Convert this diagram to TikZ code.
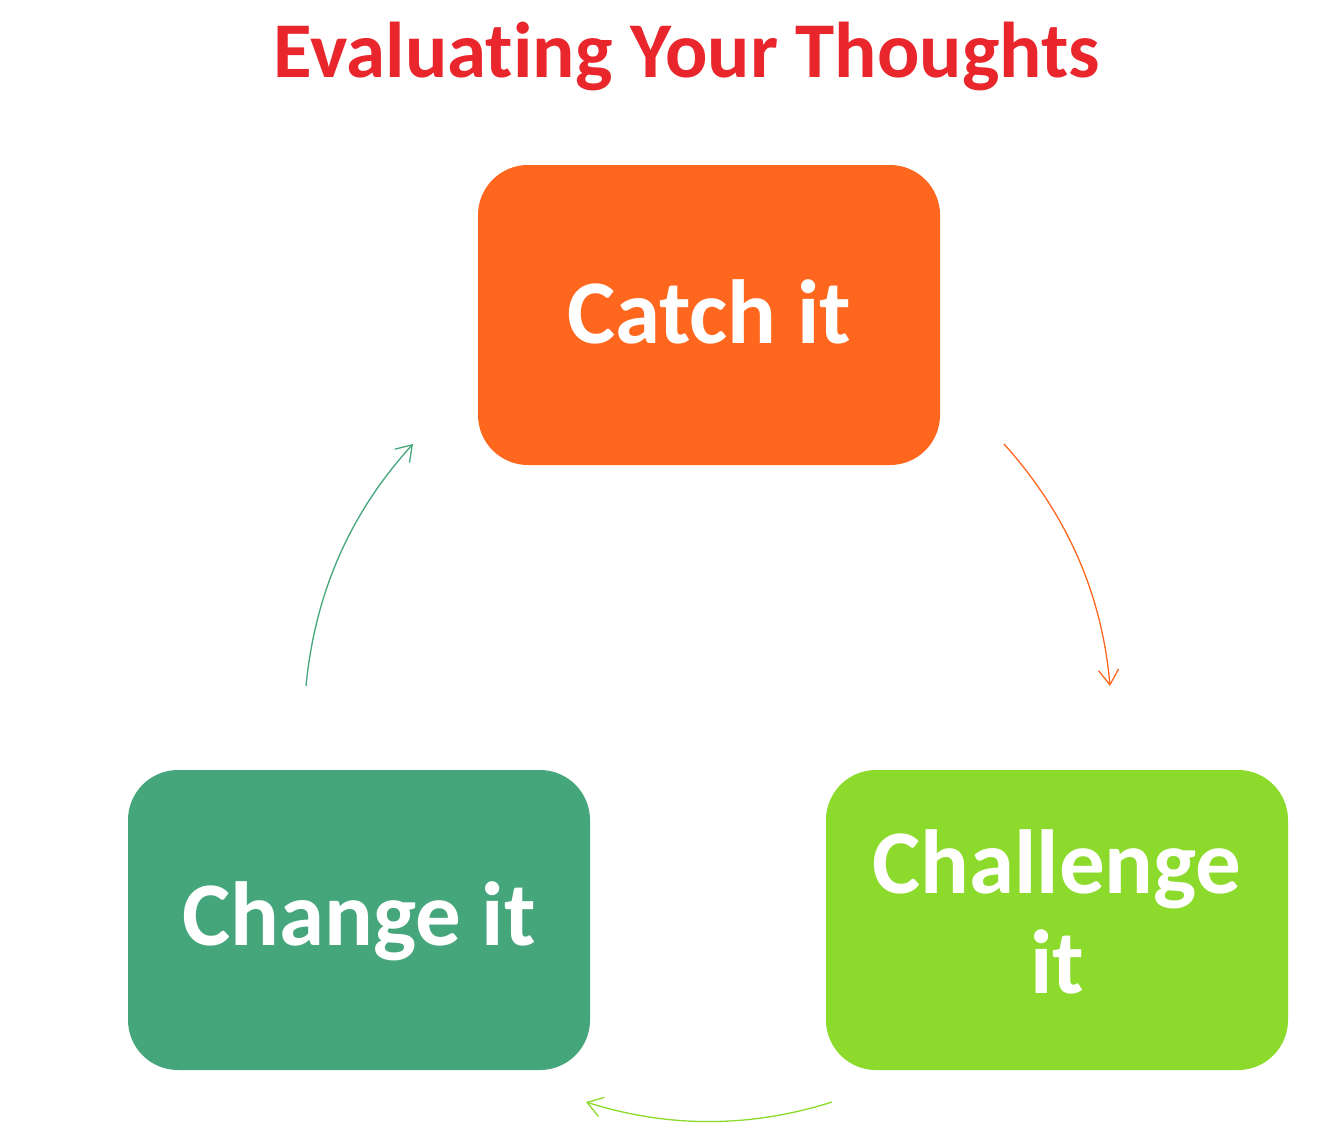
\documentclass[tikz,border=0pt]{standalone}
\usepackage{fontspec}
\setmainfont[Ligatures={NoCommon,NoDiscretionary}]{Carlito}
\usetikzlibrary{arrows.meta}
\definecolor{titlered}{HTML}{E8262C}
\definecolor{catchor}{HTML}{FF671F}
\definecolor{chalgreen}{HTML}{8CDA2B}
\definecolor{changeteal}{HTML}{46A67B}
\tikzset{
  box/.style={rounded corners=50pt, minimum width=462pt, minimum height=300pt, inner sep=0pt, draw=none},
  boxtext/.style={text=white, font=\bfseries\fontsize{91}{100}\selectfont, anchor=base, inner sep=0pt},
  cyclearrow/.style={line width=1.3pt, -{Straight Barb[length=15pt,width=20pt,line width=1.3pt]}}
}
\begin{document}
\begin{tikzpicture}[x=1pt,y=-1pt]
\useasboundingbox (0,0) rectangle (1342,1144);
\fill[white] (0,0) rectangle (1342,1144);
\node[text=titlered, font=\bfseries\fontsize{79}{90}\selectfont, anchor=base, inner sep=0pt] (title) at (687,77) {Evaluating Your Thoughts};
\node[box, fill=catchor] (catch) at (709,315) {};
\node[box, fill=chalgreen] (chal) at (1057,920) {};
\node[box, fill=changeteal] (change) at (359,920) {};
\node[boxtext] (catchtxt) at (709,343) {Catch it};
\node[boxtext] (chaltxt1) at (1057,893) {Challenge};
\node[boxtext] (chaltxt2) at (1057,993) {it};
\node[boxtext] (changetxt) at (359,945) {Change it};
\coordinate (a1s) at (1004,444);
\coordinate (a1e) at (1110,686);
\coordinate (a2s) at (832,1102);
\coordinate (a2e) at (586,1102);
\coordinate (a3s) at (306,686);
\coordinate (a3e) at (413,444);
\draw[cyclearrow, draw=catchor] (a1s) .. controls (1066,513) and (1102,593) .. (a1e);
\draw[cyclearrow, draw=chalgreen] (a2s) .. controls (750,1128) and (668,1128) .. (a2e);
\draw[cyclearrow, draw=changeteal] (a3s) .. controls (315,593) and (350,513) .. (a3e);
\end{tikzpicture}
\end{document}
